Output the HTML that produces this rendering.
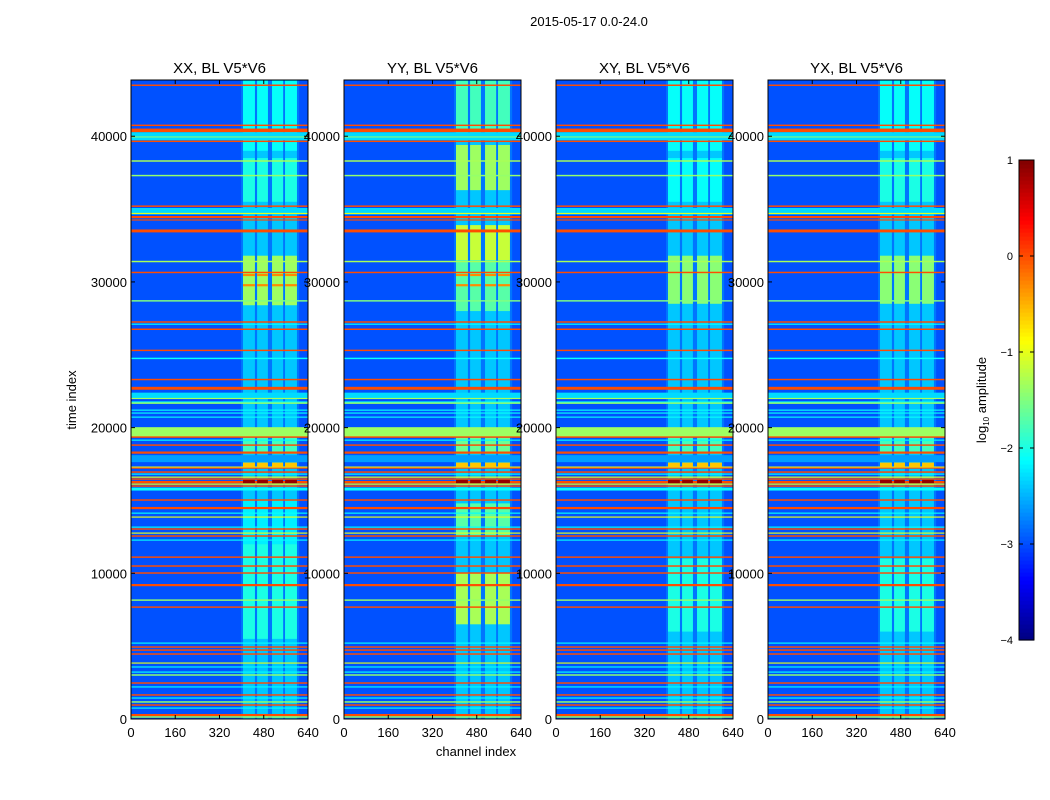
<!DOCTYPE html>
<html><head><meta charset="utf-8"><style>
html,body{margin:0;padding:0;background:#fff;}
svg{display:block;font-family:"Liberation Sans",sans-serif;}
</style></head><body>
<svg id="fig" width="1050" height="800" viewBox="0 0 1050 800" xmlns="http://www.w3.org/2000/svg">
<text x="589" y="26" font-size="13" text-anchor="middle">2015-05-17 0.0-24.0</text>
<text x="476" y="756" font-size="13" text-anchor="middle">channel index</text>
<text x="76" y="400" font-size="13" text-anchor="middle" transform="rotate(-90 76 400)">time index</text>
<g id="panels"></g>
<g id="cbar"></g>
<text x="986" y="400" font-size="13" text-anchor="middle" transform="rotate(-90 986 400)">log<tspan font-size="8" dy="3">10</tspan><tspan dy="-3"> amplitude</tspan></text>
</svg>
<script>
// ---- data ----
const panelTitles = ["XX, BL V5*V6","YY, BL V5*V6","XY, BL V5*V6","YX, BL V5*V6"];
const xTicks = [0,160,320,480,640];
const yTicks = [0,10000,20000,30000,40000];
const cbTicks = [-4,-3,-2,-1,0,1];
const backgroundLevel = -2.98;
// horizontal event lines: time, log10 level, thickness (time units)
const lineTimes  = [43500,40750,40400,40000,39950,39650,38300,37300,34850,35200,34700,34450,34250,33500,31400,30650,28700,27250,27100,26750,25300,24750,23300,22700,22200,22000,21750,21680,21200,21000,20720,19690,19350,19140,18800,18320,18250,17870,17290,17220,16950,16810,16600,16470,16260,16120,15990,15780,15030,14480,14130,13860,13170,13040,12760,12560,12280,11110,10500,10020,9190,8160,7680,5210,4940,4730,4460,3840,3570,3220,3020,2470,2200,1650,1440,1170,960,750,270,140];
const lineLevels = [0,0,0,-2.3,-1.4,0,-1.3,-1.4,-2.3,0,-1.0,0,0,0,-1.3,0,-1.5,0,-2.1,0,0,-2.1,0,0,-2.3,-1.3,-2.1,-1.4,-2.1,-2.1,-2.1,-1.35,0,-2.1,0,0,0,-2.6,-1.0,0,0,-2.1,-1.0,0,0,-1.0,0,-2.1,0,0,-2.1,-1.0,-2.1,0,-1.0,0,-2.1,0,0,0,0,-1.4,0,-2.1,0,0,0,-1.0,-2.1,-2.1,-1.4,0,-2.1,0,-2.1,-1.4,0,-2.1,0,-1.4];
const lineWidths = [100,100,250,550,60,100,100,100,450,100,80,150,80,200,100,100,100,100,80,100,100,100,100,200,400,80,100,100,80,80,80,680,100,80,100,80,80,480,80,80,100,80,80,100,160,80,100,200,100,150,80,80,80,100,80,100,80,100,100,100,150,100,100,80,100,100,100,80,80,80,100,100,80,100,80,100,100,80,150,100];
// channel stripes
const stripeStart = [405,456,510,557];
const stripeEnd   = [448,495,550,600];
const stripeDefault = -2.4;
// per-panel bright segments in stripes: [t0,t1,level]
const segXX = [[39000,43800,-2.1],[35500,38500,-2.0],[28400,31800,-1.35],[18200,19300,-1.8],[12000,15000,-2.2],[5500,12000,-2.0]];
const segYY = [[40000,43800,-1.8],[36300,39400,-1.35],[31500,33900,-1.15],[28000,31500,-1.7],[18200,19300,-1.6],[12600,14800,-1.7],[6500,10000,-1.3]];
const segXY = [[39000,43800,-2.1],[35500,38500,-2.1],[28500,31800,-1.45],[18200,19300,-1.8],[6000,11000,-2.0]];
const segYX = [[39000,43800,-2.1],[35500,38500,-2.0],[28500,31800,-1.45],[18200,19300,-1.8],[6000,11000,-2.0]];
const panelSegs = [segXX,segYY,segXY,segYX];
// blocks in stripes: [t0,t1,level]
const blocks = [[17300,17600,-0.6],[16180,16420,0.9]];
const blocksXX = [[30400,30550,-0.3],[29700,29850,-0.3]];
const panelBlocks = [blocksXX,blocksXX,[],[]];

// ---- layout ----
const NS="http://www.w3.org/2000/svg";
const panelLefts=[131,344,556,768], PW=177, TOP=80, BOT=719, TMAX=43860, CMAX=640;
function jet(v){ let x=(v+4)/5; x=Math.max(0,Math.min(1,x));
  const c=t=>Math.round(255*Math.max(0,Math.min(1,1.5-Math.abs(4*x-t))));
  return `rgb(${c(3)},${c(2)},${c(1)})`; }
function el(tag,attrs,parent){const e=document.createElementNS(NS,tag);for(const k in attrs)e.setAttribute(k,attrs[k]);parent.appendChild(e);return e;}
const panelsG=document.getElementById('panels');
panelLefts.forEach((L,p)=>{
  const xs=c=>L+c/CMAX*PW;
  const ys=t=>BOT-t/TMAX*(BOT-TOP);
  const g=el('g',{},panelsG);
  
  
  const bg=el('rect',{x:L,y:TOP,width:PW,height:BOT-TOP,fill:jet(backgroundLevel)},g);
  
  
  const reg=el('rect',{x:xs(398),y:TOP,width:xs(608)-xs(398),height:BOT-TOP,fill:jet(-2.8)},g);
  
  
  stripeStart.forEach((s,i)=>{
    const r=el('rect',{x:xs(s),y:TOP,width:xs(stripeEnd[i])-xs(s),height:BOT-TOP,fill:jet(stripeDefault)},g);
    
    
    panelSegs[p].forEach(sg=>{
      const q=el('rect',{x:xs(s),y:ys(sg[1]),width:xs(stripeEnd[i])-xs(s),height:ys(sg[0])-ys(sg[1]),fill:jet(sg[2])},g);
      
      
    });
  });
  lineTimes.forEach((t,i)=>{
    const w=lineWidths[i];
    const h=Math.max(1,(ys(t-w/2)-ys(t+w/2)));
    const r=el('rect',{x:L,y:ys(t)-h/2,width:PW,height:h,fill:jet(lineLevels[i])},g);
    
    
  });
  blocks.concat(panelBlocks[p]).forEach(b=>{
    stripeStart.forEach((s,i)=>{
      const r=el('rect',{x:xs(s),y:ys(b[1]),width:xs(stripeEnd[i])-xs(s),height:ys(b[0])-ys(b[1]),fill:jet(b[2])},g);
      
      
    });
  });
  const fr=el('rect',{x:L,y:TOP,width:PW,height:BOT-TOP,fill:'none',stroke:'#000','stroke-width':1},g);
  
  
  const tt=el('text',{x:L+PW/2,y:73,'font-size':15,'text-anchor':'middle'},g);
  tt.textContent=panelTitles[p];
  
  
  xTicks.forEach(v=>{
    const x=xs(v);
    el('line',{x1:x,x2:x,y1:BOT,y2:BOT-4,stroke:'#000'},g);
    el('line',{x1:x,x2:x,y1:TOP,y2:TOP+4,stroke:'#000'},g);
    const t=el('text',{x:x,y:737,'font-size':13,'text-anchor':'middle'},g);
    t.textContent=v;
    
    
  });
  yTicks.forEach(v=>{
    const y=ys(v);
    el('line',{x1:L,x2:L+4,y1:y,y2:y,stroke:'#000'},g);
    el('line',{x1:L+PW,x2:L+PW-4,y1:y,y2:y,stroke:'#000'},g);
    const t=el('text',{x:L-4,y:y+5,'font-size':13,'text-anchor':'end'},g);
    t.textContent=v;
    
    
  });
});
// colorbar
const cb=document.getElementById('cbar');
const CBX=1019,CBW=15,CBT=160,CBB=640;
const cys=v=>CBB-(v+4)/5*(CBB-CBT);
for(let i=0;i<120;i++){
  const v0=-4+i*5/120, v1=-4+(i+1)*5/120;
  el('rect',{x:CBX,y:cys(v1),width:CBW,height:cys(v0)-cys(v1)+0.6,fill:jet((v0+v1)/2)},cb);
}
el('rect',{x:CBX,y:CBT,width:CBW,height:CBB-CBT,fill:'none',stroke:'#000'},cb);
cbTicks.forEach(v=>{
  const y=cys(v);
  el('line',{x1:CBX,x2:CBX+4,y1:y,y2:y,stroke:'#000'},cb);
  el('line',{x1:CBX+CBW,x2:CBX+CBW-4,y1:y,y2:y,stroke:'#000'},cb);
  const t=el('text',{x:1013,y:y+4,'font-size':11,'text-anchor':'end'},cb);
  t.textContent=v<0?'\u2212'+(-v):String(v);
  
  
});
</script>
</body></html>
